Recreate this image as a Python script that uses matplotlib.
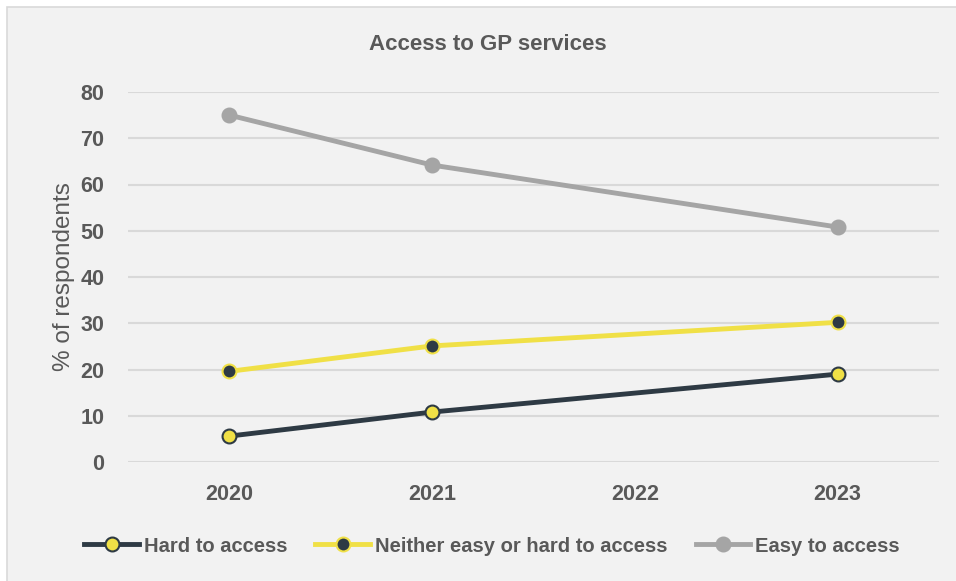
import matplotlib
matplotlib.use("Agg")
import matplotlib.pyplot as plt
from matplotlib.patches import Rectangle

plt.rcParams['font.family'] = ['Liberation Sans Narrow', 'Liberation Sans', 'DejaVu Sans']

years = ["2020", "2021", "2022", "2023"]
data_years_idx = [0, 1, 3]
hard = [5.6, 10.8, 19.0]
neither = [19.6, 25.1, 30.2]
easy = [75.0, 64.2, 50.8]
yticks = [0, 10, 20, 30, 40, 50, 60, 70, 80]

TXT = '#595959'
DARK = '#2e3a44'
YEL = '#f0e046'
GRAY = '#a5a5a5'
BG = '#f2f2f2'

fig = plt.figure(figsize=(9.56, 5.81), dpi=100)
fig.patch.set_facecolor('white')
bgrect = Rectangle((7/956, -0.01), 1.0, 1 - 7/581 + 0.01, transform=fig.transFigure,
                   facecolor=BG, edgecolor='#d9d9d9', linewidth=1.2, zorder=-5)
fig.patches.append(bgrect)

ax = fig.add_axes([128/956, 119/581, 811/956, 370/581])
ax.set_zorder(1)
ax.patch.set_alpha(0)
for s in ax.spines.values():
    s.set_visible(False)

ax.set_ylim(0, 80)
ax.set_xlim(-0.5, 3.5)
ax.set_yticks(yticks)
ax.set_xticks(range(len(years)))
ax.set_xticklabels(years)
ax.grid(axis='y', color='#d9d9d9', linewidth=1.5, zorder=0)
ax.set_axisbelow(True)
ax.tick_params(axis='both', length=0, labelsize=15.5, labelcolor=TXT)
ax.tick_params(axis='y', pad=17)
ax.tick_params(axis='x', pad=16)
for lab in ax.get_xticklabels() + ax.get_yticklabels():
    lab.set_fontweight('bold')

ms = 10
lw = 3.5
ax.plot(data_years_idx, hard, color=DARK, lw=lw, marker='o', ms=ms, mfc=YEL, mec=DARK, mew=1.5,
        label='Hard to access', clip_on=False, zorder=3)
ax.plot(data_years_idx, neither, color=YEL, lw=lw, marker='o', ms=ms, mfc=DARK, mec=YEL, mew=1.5,
        label='Neither easy or hard to access', clip_on=False, zorder=3)
ax.plot(data_years_idx, easy, color=GRAY, lw=lw, marker='o', ms=ms, mfc=GRAY, mec=GRAY, mew=1.5,
        label='Easy to access', clip_on=False, zorder=3)

ax.set_ylabel('% of respondents', fontsize=17.5, color=TXT, labelpad=4)

fig.text(488/956, 1 - 45/581, 'Access to GP services', ha='center', va='center',
         fontsize=16, fontweight='bold', color=TXT)

leg = fig.legend(loc='center', bbox_to_anchor=(492/956, 1 - 546/581), ncol=3, frameon=False,
                 prop={'size': 14.5, 'weight': 'bold'}, handlelength=2.7, handletextpad=0.25,
                 columnspacing=1.4)
for t in leg.get_texts():
    t.set_color(TXT)

fig.savefig('out.png', dpi=100, facecolor=fig.get_facecolor())
